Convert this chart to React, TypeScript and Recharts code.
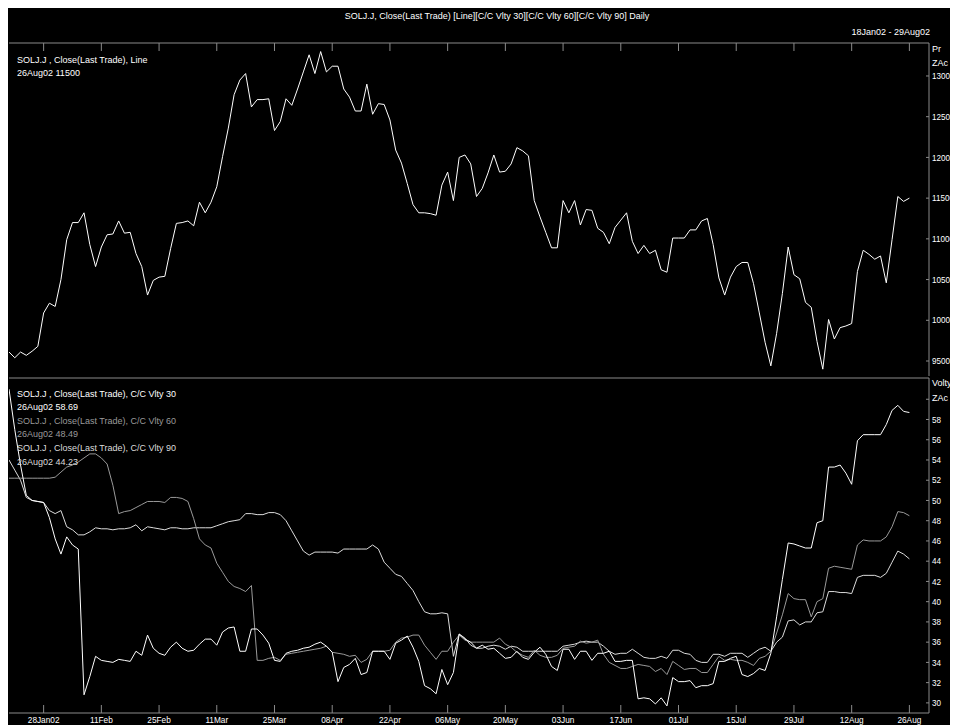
import { LineChart, Line, XAxis, YAxis } from "recharts";

// trading-day index 0 = 18Jan02, one step per weekday, 156 = 26Aug02
const TICK_DAYS = [6, 16, 26, 36, 46, 56, 66, 76, 86, 96, 106, 116, 126, 136, 146, 156];
const TICK_LABELS = [
  "28Jan02", "11Feb", "25Feb", "11Mar", "25Mar", "08Apr", "22Apr", "06May",
  "20May", "03Jun", "17Jun", "01Jul", "15Jul", "29Jul", "12Aug", "26Aug",
];

const PRICE_TICKS = [9500, 10000, 10500, 11000, 11500, 12000, 12500, 13000];
const VOL_TICKS = [30, 32, 34, 36, 38, 40, 42, 44, 46, 48, 50, 52, 54, 56, 58, 60];

// SOLJ.J close, ZAc
const PRICE = [
  9610, 9540, 9610, 9570, 9620, 9680, 10090, 10210, 10170, 10500,
  10990, 11200, 11200, 11320, 10930, 10660, 10900, 11050, 11060, 11220,
  11070, 11080, 10820, 10660, 10310, 10490, 10530, 10540, 10880, 11190,
  11200, 11220, 11160, 11450, 11320, 11450, 11640, 12010, 12360, 12770,
  12950, 13030, 12620, 12710, 12710, 12720, 12330, 12440, 12720, 12640,
  12840, 13050, 13260, 13030, 13300, 13050, 13120, 13120, 12840, 12740,
  12570, 12570, 12900, 12530, 12660, 12650, 12460, 12090, 11930, 11680,
  11420, 11320, 11320, 11310, 11290, 11660, 11820, 11470, 12000, 12030,
  11920, 11520, 11620, 11810, 12030, 11820, 11830, 11920, 12120, 12080,
  12020, 11470, 11270, 11080, 10890, 10890, 11470, 11320, 11470, 11170,
  11360, 11350, 11130, 11080, 10940, 11140, 11230, 11320, 10970, 10820,
  10920, 10820, 10860, 10620, 10590, 11010, 11010, 11010, 11110, 11110,
  11220, 11250, 10930, 10520, 10310, 10530, 10660, 10710, 10710, 10450,
  10090, 9730, 9440, 9840, 10330, 10900, 10560, 10510, 10220, 10160,
  9740, 9400, 10010, 9770, 9910, 9930, 9960, 10600, 10860, 10810,
  10750, 10790, 10460, 10990, 11520, 11460, 11500,
];

// close-to-close volatility, 30 / 60 / 90 day windows
const VLTY30 = [
  61.0, 57.0, 53.5, 50.5, 50.0, 49.9, 49.8, 48.3, 46.2, 44.7,
  46.4, 45.6, 45.2, 30.8, 32.6, 34.6, 34.2, 34.1, 34.0, 34.3,
  34.2, 34.1, 35.1, 34.7, 36.7, 35.4, 34.9, 34.7, 35.5, 36.0,
  35.4, 35.1, 35.2, 35.8, 36.3, 36.3, 35.7, 37.0, 37.4, 37.5,
  35.1, 35.1, 37.3, 37.3, 36.7, 35.9, 34.2, 34.1, 34.9, 35.1,
  35.2, 35.4, 35.5, 35.8, 36.0, 35.6, 35.0, 32.1, 33.5, 33.8,
  34.4, 32.8, 33.0, 35.1, 35.1, 35.1, 34.3, 35.9, 36.2, 36.6,
  35.5, 34.1, 31.7, 31.4, 30.9, 33.3, 31.8, 33.0, 36.8, 36.3,
  36.0, 35.4, 35.7, 35.3, 35.4, 34.9, 34.4, 34.5, 35.1, 34.5,
  34.3, 35.0, 35.5, 34.8, 33.6, 33.2, 35.3, 35.3, 34.3, 35.1,
  35.1, 34.2, 34.9, 34.9, 35.1, 34.1, 34.1, 34.2, 34.2, 30.4,
  30.5, 30.4, 29.9, 30.5, 29.7, 32.5, 32.1, 32.1, 32.2, 31.5,
  31.7, 31.7, 31.9, 34.1, 34.1, 34.4, 34.6, 32.8, 32.6, 32.9,
  33.4, 33.2, 34.9, 38.5, 42.2, 45.8, 45.7, 45.5, 45.3, 45.3,
  47.8, 48.0, 53.3, 53.3, 53.5, 52.7, 51.6, 55.9, 56.5, 56.5,
  56.5, 56.5, 57.5, 58.9, 59.4, 58.8, 58.69,
];

const VLTY60 = [
  52.2, 52.2, 52.2, 52.2, 52.2, 52.2, 52.2, 52.2, 52.3, 52.8,
  53.3, 53.5, 53.8, 54.2, 54.6, 54.6, 54.2, 53.6, 51.5, 48.7,
  48.9, 49.0, 49.3, 49.6, 49.9, 49.9, 49.9, 49.8, 50.3, 50.3,
  50.2, 49.9, 48.2, 46.2, 45.6, 45.3, 43.8, 42.9, 42.0, 41.5,
  41.3, 41.0, 41.6, 34.2, 34.2, 34.4, 34.5, 34.2, 34.8, 34.9,
  35.0, 35.1, 35.2, 35.3, 35.4, 35.6, 35.0, 34.9, 34.8, 34.6,
  34.7, 34.0, 34.3, 35.1, 35.1, 35.1, 35.2, 36.0, 36.4, 36.5,
  36.7, 36.7, 35.7, 35.0, 34.3, 35.1, 35.1, 36.0, 36.7, 36.2,
  36.0, 36.0, 36.0, 36.0, 36.0, 36.4, 35.8, 35.5, 35.0, 34.7,
  34.5, 35.2, 34.7, 34.5, 34.5, 34.7, 35.4, 35.5, 35.6, 36.1,
  35.9, 36.0, 36.2, 34.8, 34.0, 33.7, 33.4, 33.4, 33.6, 33.8,
  33.7, 33.6, 33.1, 33.4, 32.8, 34.1, 33.7, 33.3, 33.4, 33.4,
  33.0, 33.0, 33.8, 34.6, 34.2, 34.3, 34.2, 34.2, 34.0, 33.7,
  34.4, 34.6, 35.1, 36.9, 38.7, 40.8, 40.3, 40.2, 40.2, 38.5,
  40.0, 40.3, 43.3, 43.5, 43.4, 43.3, 43.2, 45.6, 46.1, 46.0,
  46.0, 46.0, 46.4, 47.4, 48.9, 48.8, 48.49,
];

const VLTY90 = [
  54.0, 53.0, 52.0, 50.3, 50.0, 49.9, 49.8, 49.0, 48.7, 49.0,
  47.4, 47.1, 46.6, 46.6, 46.9, 47.3, 47.2, 47.2, 47.1, 47.2,
  47.2, 47.3, 47.6, 47.0, 47.4, 47.3, 47.2, 47.1, 47.3, 47.3,
  47.2, 47.2, 47.3, 47.3, 47.3, 47.3, 47.5, 47.7, 47.9, 48.0,
  48.1, 48.7, 48.7, 48.6, 48.6, 48.8, 48.8, 48.6, 48.0, 47.0,
  46.0, 45.0, 44.6, 44.9, 44.9, 44.9, 44.9, 44.8, 45.2, 45.2,
  45.2, 45.2, 45.2, 45.6, 45.2, 43.9, 43.3, 42.7, 42.5, 41.8,
  41.1, 40.0, 39.0, 38.8, 38.8, 38.9, 38.8, 34.6, 36.8, 36.4,
  35.7, 35.4, 35.4, 35.6, 35.7, 35.6, 35.3, 35.6, 35.5, 35.1,
  35.1, 35.1, 35.1, 35.1, 35.1, 35.1, 35.6, 35.7, 35.8, 36.0,
  36.1, 36.0, 36.0, 35.6, 35.1, 34.8, 34.9, 34.9, 35.3, 34.9,
  34.5, 34.4, 34.4, 34.6, 34.4, 35.2, 35.2, 34.9, 34.8, 34.2,
  34.0, 34.0, 34.8, 34.8, 34.6, 34.9, 34.9, 34.9, 34.5, 34.9,
  35.3, 35.5, 35.1, 36.0, 36.5, 38.1, 38.2, 37.7, 38.0, 38.0,
  38.9, 39.0, 41.0, 41.0, 40.9, 40.9, 40.8, 42.4, 42.6, 42.6,
  42.6, 42.4, 42.8, 43.9, 45.0, 44.7, 44.23,
];

const rows = PRICE.map((p, i) => ({
  day: i,
  price: p,
  v30: VLTY30[i],
  v60: VLTY60[i],
  v90: VLTY90[i],
}));

const FONT = '"Liberation Sans", Arial, sans-serif';
const FS = 9;
const BORDER = "#8a8a8a";
const WHITE = "#ffffff";
const GREY = "#9a9a9a";
const LIGHT = "#dcdcdc";
const X_DOMAIN: [number, number] = [0, 159.4];

const TopTick = ({ x, y }: any) => (
  <line x1={x} y1={y} x2={x} y2={y + 8} stroke={BORDER} />
);

const DateTick = ({ x, y, payload }: any) => (
  <g>
    <line x1={x} y1={y - 8} x2={x} y2={y} stroke={BORDER} />
    <text
      transform={`translate(${x} ${y + 10}) scale(0.92 1)`}
      textAnchor="middle"
      fill={WHITE}
      fontSize={FS}
      fontFamily={FONT}
    >
      {TICK_LABELS[TICK_DAYS.indexOf(payload.value)]}
    </text>
  </g>
);

const ValueTick = ({ x, y, payload, hide }: any) => (
  <g>
    <line x1={x - 3} y1={y} x2={x} y2={y} stroke={BORDER} />
    {payload.value !== hide && (
      <text
        transform={`translate(${x + 3} ${y + 3.2}) scale(0.9 1)`}
        fill={WHITE}
        fontSize={FS}
        fontFamily={FONT}
      >
        {payload.value}
      </text>
    )}
  </g>
);

function Txt({ x, y, color = WHITE, children }: any) {
  return (
    <div
      style={{
        position: "absolute",
        left: x,
        top: y,
        color,
        font: `${FS}px ${FONT}`,
        lineHeight: "12px",
        whiteSpace: "nowrap",
      }}
    >
      {children}
    </div>
  );
}

export default function App() {
  return (
    <div style={{ position: "relative", width: 950, height: 717, background: "#000", overflow: "hidden" }}>
      <style>{"html, body { overflow: hidden; }"}</style>
      <div
        style={{
          position: "absolute",
          left: 189,
          top: 2,
          width: 600,
          textAlign: "center",
          color: WHITE,
          font: `${FS}px ${FONT}`,
          lineHeight: "12px",
        }}
      >
        SOLJ.J, Close(Last Trade) [Line][C/C Vlty 30][C/C Vlty 60][C/C Vlty 90] Daily
      </div>
      <div
        style={{
          position: "absolute",
          right: 28,
          top: 18,
          color: WHITE,
          font: `${FS}px ${FONT}`,
          lineHeight: "12px",
        }}
      >
        18Jan02 - 29Aug02
      </div>

      <div style={{ position: "absolute", left: 0, top: 0 }}>
        <LineChart width={950} height={372} data={rows} margin={{ top: 34, right: 0, bottom: 4, left: 1 }}>
          <XAxis
            xAxisId="t"
            orientation="top"
            dataKey="day"
            type="number"
            domain={X_DOMAIN}
            allowDataOverflow
            ticks={TICK_DAYS}
            interval={0}
            height={1}
            tickLine={false}
            tickSize={0}
            tickMargin={0}
            axisLine={{ stroke: BORDER }}
            tick={TopTick}
          />
          <XAxis
            xAxisId="b"
            orientation="bottom"
            dataKey="day"
            type="number"
            domain={X_DOMAIN}
            allowDataOverflow
            height={0}
            tick={false}
            tickLine={false}
            axisLine={{ stroke: BORDER }}
          />
          <YAxis
            orientation="right"
            type="number"
            domain={[9316, 13405]}
            allowDataOverflow
            ticks={PRICE_TICKS}
            interval={0}
            width={29}
            tickLine={false}
            tickSize={0}
            tickMargin={0}
            axisLine={{ stroke: BORDER }}
            tick={(p: any) => <ValueTick {...p} />}
          />
          <Line
            xAxisId="t"
            dataKey="price"
            type="linear"
            stroke={WHITE}
            strokeWidth={1}
            dot={false}
            isAnimationActive={false}
          />
        </LineChart>
      </div>

      <div style={{ position: "absolute", left: 0, top: 369 }}>
        <LineChart width={950} height={348} data={rows} margin={{ top: 0, right: 0, bottom: 0, left: 1 }}>
          <XAxis
            xAxisId="t"
            orientation="top"
            dataKey="day"
            type="number"
            domain={X_DOMAIN}
            allowDataOverflow
            height={1}
            tick={false}
            tickLine={false}
            axisLine={{ stroke: BORDER }}
          />
          <XAxis
            xAxisId="b"
            orientation="bottom"
            dataKey="day"
            type="number"
            domain={X_DOMAIN}
            allowDataOverflow
            ticks={TICK_DAYS}
            interval={0}
            height={12}
            tickLine={false}
            tickSize={0}
            tickMargin={0}
            axisLine={{ stroke: BORDER }}
            tick={DateTick}
          />
          <YAxis
            orientation="right"
            type="number"
            domain={[29, 62.1]}
            allowDataOverflow
            ticks={VOL_TICKS}
            interval={0}
            width={29}
            tickLine={false}
            tickSize={0}
            tickMargin={0}
            axisLine={{ stroke: BORDER }}
            tick={(p: any) => <ValueTick {...p} hide={60} />}
          />
          <Line xAxisId="b" dataKey="v90" type="linear" stroke={LIGHT} strokeWidth={1} dot={false} isAnimationActive={false} />
          <Line xAxisId="b" dataKey="v60" type="linear" stroke={GREY} strokeWidth={1} dot={false} isAnimationActive={false} />
          <Line xAxisId="b" dataKey="v30" type="linear" stroke={WHITE} strokeWidth={1} dot={false} isAnimationActive={false} />
        </LineChart>
      </div>

      <Txt x={9} y={46}>SOLJ.J , Close(Last Trade), Line</Txt>
      <Txt x={9} y={59}>26Aug02 11500</Txt>
      <Txt x={924} y={35}>Pr</Txt>
      <Txt x={924} y={49}>ZAc</Txt>

      <Txt x={9} y={380}>SOLJ.J , Close(Last Trade), C/C Vlty 30</Txt>
      <Txt x={9} y={393}>26Aug02 58.69</Txt>
      <Txt x={9} y={407} color={GREY}>SOLJ.J , Close(Last Trade), C/C Vlty 60</Txt>
      <Txt x={9} y={420} color={GREY}>26Aug02 48.49</Txt>
      <Txt x={9} y={434} color={LIGHT}>SOLJ.J , Close(Last Trade), C/C Vlty 90</Txt>
      <Txt x={9} y={448} color={LIGHT}>26Aug02 44.23</Txt>
      <Txt x={924} y={369}>Volty</Txt>
      <Txt x={924} y={384}>ZAc</Txt>
    </div>
  );
}
